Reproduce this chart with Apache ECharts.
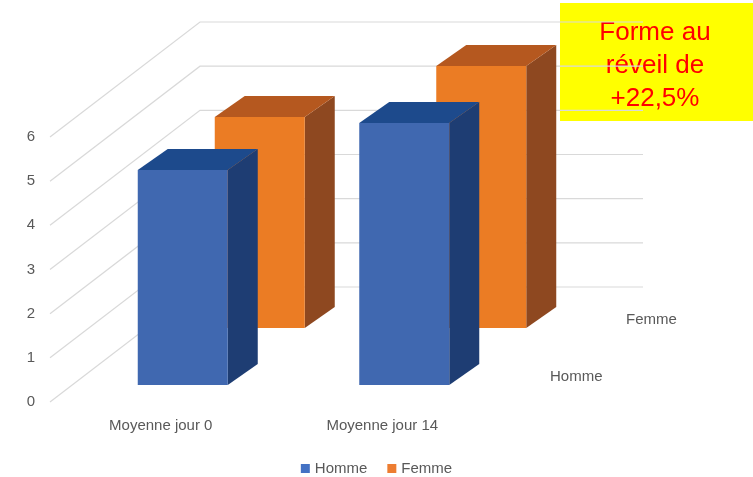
<!DOCTYPE html>
<html><head><meta charset="utf-8">
<script src="https://cdn.jsdelivr.net/npm/echarts@6/dist/echarts.min.js"></script>
<style>html,body{margin:0;padding:0;background:#fff}#c{width:753px;height:477px}</style>
</head><body><div id="c"></div>
<script>
const categories = ['Moyenne jour 0', 'Moyenne jour 14'];
const homme = [4.87, 5.93];
const femme = [4.78, 5.93];
const yTicks = [0, 1, 2, 3, 4, 5, 6];
const seriesNames = ['Homme', 'Femme'];

const FONT = '"Liberation Sans", Arial, sans-serif';
const WALL_DX = 150, WALL_DY = -115;
const BAR_W = 90, BAR_DX = 30, BAR_DY = -21;

function barRender(colors, off) {
  return function (params, api) {
    const cat = api.value(0), v = api.value(1);
    const base = api.coord([cat, 0]);
    const top = api.coord([cat, v]);
    const l = base[0] - BAR_W / 2 + off[0];
    const r = l + BAR_W;
    const yb = base[1] + off[1];
    const yt = top[1] + off[1];
    return {
      type: 'group',
      children: [
        { type: 'polygon', shape: { points: [[r, yt], [r + BAR_DX, yt + BAR_DY], [r + BAR_DX, yb + BAR_DY], [r, yb]] }, style: { fill: colors.side } },
        { type: 'polygon', shape: { points: [[l, yt], [l + BAR_DX, yt + BAR_DY], [r + BAR_DX, yt + BAR_DY], [r, yt]] }, style: { fill: colors.top } },
        { type: 'rect', shape: { x: l, y: yt, width: BAR_W, height: yb - yt }, style: { fill: colors.front } }
      ]
    };
  };
}

const chart = echarts.init(document.getElementById('c'));
chart.setOption({
  animation: false,
  backgroundColor: '#fff',
  grid: { left: 50, right: 260, top: 137, bottom: 75 },
  xAxis: {
    type: 'category', data: categories,
    axisLine: { show: false }, axisTick: { show: false },
    axisLabel: { color: '#595959', fontFamily: FONT, fontSize: 15, margin: 16 }
  },
  yAxis: {
    type: 'value', min: 0, max: 6, interval: 1,
    axisLine: { show: false }, axisTick: { show: false }, splitLine: { show: false },
    axisLabel: { color: '#595959', fontFamily: FONT, fontSize: 15, margin: 15 }
  },
  legend: {
    data: seriesNames, top: 456, left: 'center',
    icon: 'rect', itemWidth: 9, itemHeight: 9, itemGap: 20,
    textStyle: { color: '#595959', fontFamily: FONT, fontSize: 15 }
  },
  series: [
    {
      type: 'custom', name: 'grid', clip: false, silent: true,
      data: yTicks.map(v => [0, v]),
      renderItem: function (params, api) {
        const y = api.coord([0, api.value(1)])[1];
        const x0 = params.coordSys.x, w = params.coordSys.width;
        return {
          type: 'polyline',
          shape: { points: [[x0, y], [x0 + WALL_DX, y + WALL_DY], [x0 + WALL_DX + w, y + WALL_DY]] },
          style: { stroke: '#d9d9d9', lineWidth: 1.2, fill: null }
        };
      }
    },
    {
      type: 'custom', name: 'Femme', clip: false,
      itemStyle: { color: '#ED7D31' },
      data: femme.map((v, i) => [i, v]),
      renderItem: barRender({ front: '#EB7C24', side: '#8E4820', top: '#B5581F' }, [99, -74])
    },
    {
      type: 'custom', name: 'Homme', clip: false,
      itemStyle: { color: '#4472C4' },
      data: homme.map((v, i) => [i, v]),
      renderItem: barRender({ front: '#4068B0', side: '#1E3D73', top: '#1D4A8C' }, [22, -17])
    }
  ],
  graphic: [
    { type: 'text', left: 550, top: 369, style: { text: 'Homme', fill: '#595959', font: '15px ' + FONT } },
    { type: 'text', left: 626, top: 312, style: { text: 'Femme', fill: '#595959', font: '15px ' + FONT } },
    { type: 'rect', left: 560, top: 3, shape: { width: 193, height: 118 }, style: { fill: '#FFFF00' } },
    { type: 'text', x: 655, y: 66, style: { text: 'Forme au\nréveil de\n+22,5%', fill: '#FF0000', font: '26px ' + FONT, lineHeight: 33, align: 'center', verticalAlign: 'middle' } }
  ]
});
</script>
</body></html>
